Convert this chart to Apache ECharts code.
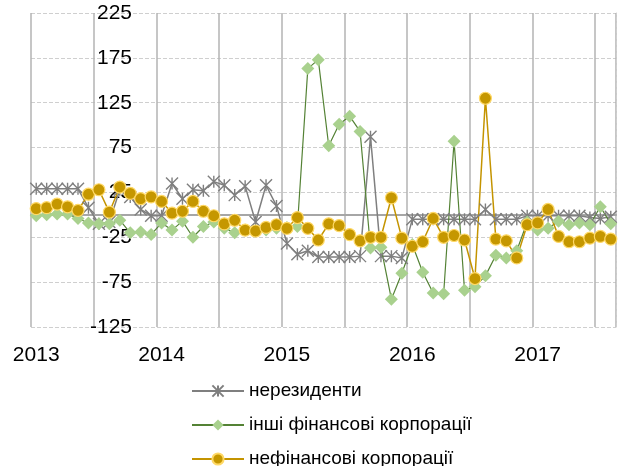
<!DOCTYPE html>
<html><head><meta charset="utf-8">
<script src="https://cdn.jsdelivr.net/npm/echarts@6/dist/echarts.min.js"></script>
<style>html,body{margin:0;padding:0;background:#fff}#c{width:623px;height:466px}</style>
</head><body><div id="c"></div>
<script>
// monthly categories Jan 2013 .. Aug 2017
const years = ['2013','2014','2015','2016','2017'];
const months = [];
for (let y = 0; y < years.length; y++) { for (let m = 1; m <= 12; m++) { if (y === 4 && m > 8) break; months.push(years[y] + '-' + (m < 10 ? '0' + m : m)); } }
const seriesNames = ['нерезиденти', 'інші фінансові корпорації', 'нефінансові корпорації'];
const nonResidents = [29,29,29,29,29,8,-10,-8,28,20,6,-1,-1,35,18,28,27,37,33,22,32,-8,33,10,-32,-44,-40,-47,-47,-47,-47,-46,87,-46,-46,-48,-5,-5,-5,-5,-5,-5,-5,6,-5,-5,-5,-1,-1,-1,-1,-1,-1,-3,-4,-2];
const otherFinancial = [-1,0,1,1,-4,-9,-10,-10,-6,-20,-19,-22,-9,-17,-7,-25,-13,-8,-15,-20,-17,-18,-17,-15,-14,-13,163,173,77,101,110,93,-37,-36,-94,-65,-33,-64,-87,-88,82,-84,-80,-68,-45,-48,-40,-8,-17,-15,-7,-11,-9,-11,9,-10];
const nonFinancial = [7,8,12,9,5,23,28,3,31,24,18,20,15,2,4,15,4,-1,-10,-6,-17,-18,-14,-11,-15,-3,-15,-28,-10,-12,-22,-29,-25,-25,19,-26,-35,-30,-4,-25,-23,-28,-71,130,-27,-29,-48,-11,-9,6,-24,-30,-30,-26,-24,-27];
const yTicks = {min: -125, max: 225, step: 50};

const chart = echarts.init(document.getElementById('c'), null, {renderer: 'canvas'});
const asterisk = 'path://M0,0L10,10M10,0L0,10M5,0L5,10';
const font = 'Liberation Sans';
chart.setOption({
  animation: false,
  textStyle: {fontFamily: font},
  grid: {left: 31, right: 7, top: 13, bottom: 139, containLabel: false},
  legend: {
    orient: 'vertical', left: 191, top: 381, height: 120, padding: 0, itemGap: 14,
    itemWidth: 52, itemHeight: 14,
    textStyle: {fontSize: 19, lineHeight: 20, color: '#000', fontFamily: font},
    data: seriesNames
  },
  xAxis: [{
    type: 'category', data: months, boundaryGap: true, position: 'bottom',
    axisLine: {show: false, onZero: false},
    axisTick: {show: false},
    axisLabel: {interval: 11, margin: 18, fontSize: 21, color: '#000', fontFamily: font,
      formatter: v => v.slice(0, 4)},
    splitLine: {show: true, interval: 5, lineStyle: {color: '#b3b3b3', width: 1.5}}
  }, {
    type: 'category', data: months, boundaryGap: true, position: 'bottom',
    axisLine: {show: true, onZero: true, lineStyle: {color: '#a6a6a6', width: 2}},
    axisTick: {show: false}, axisLabel: {show: false}, splitLine: {show: false}
  }],
  yAxis: [{
    type: 'value', min: yTicks.min, max: yTicks.max, interval: yTicks.step,
    position: 'left', offset: -102,
    axisLine: {show: false}, axisTick: {show: false},
    axisLabel: {margin: 1, fontSize: 21, color: '#000', fontFamily: font},
    splitLine: {show: true, lineStyle: {color: '#cfcfcf', type: 'dashed', width: 1}}
  }, {
    type: 'value', min: yTicks.min, max: yTicks.max, interval: yTicks.step,
    position: 'right',
    axisLine: {show: true, lineStyle: {color: '#cfcfcf', type: 'dashed', width: 1}},
    axisTick: {show: false}, axisLabel: {show: false}, splitLine: {show: false}
  }],
  series: [{
    name: seriesNames[0], type: 'line', data: nonResidents, showAllSymbol: true,
    symbol: asterisk, symbolSize: 12,
    lineStyle: {color: '#7f7f7f', width: 1.5},
    itemStyle: {color: '#7f7f7f', borderColor: '#7f7f7f', borderWidth: 1.4}
  }, {
    name: seriesNames[1], type: 'line', data: otherFinancial, showAllSymbol: true,
    symbol: 'diamond', symbolSize: 13,
    lineStyle: {color: '#548235', width: 1.2},
    itemStyle: {color: '#a9d18e', borderColor: '#a9d18e', borderWidth: 0}
  }, {
    name: seriesNames[2], type: 'line', data: nonFinancial, showAllSymbol: true,
    symbol: 'circle', symbolSize: 12,
    lineStyle: {color: '#c49400', width: 1.5},
    itemStyle: {color: '#c59700', borderColor: '#ffd966', borderWidth: 1.2}
  }]
});
</script></body></html>
